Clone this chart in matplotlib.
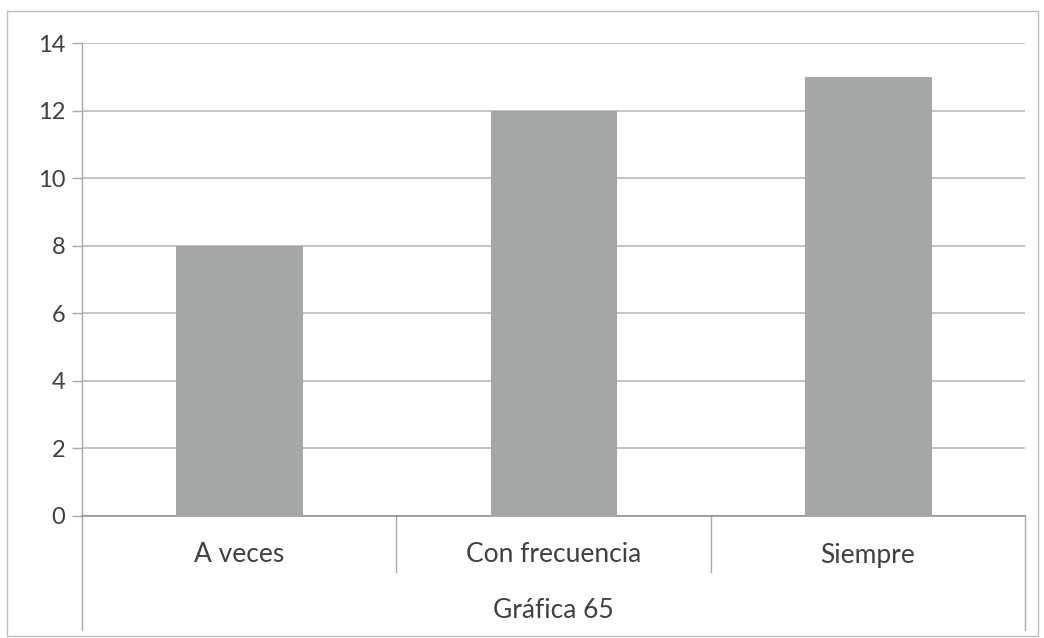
import matplotlib
matplotlib.use("Agg")
import matplotlib.pyplot as plt
from matplotlib.patches import Rectangle

categories = ["A veces", "Con frecuencia", "Siempre"]
values = [8, 12, 13]
yticks = [0, 2, 4, 6, 8, 10, 12, 14]
group_label = "Gráfica 65"

plt.rcParams['font.family'] = ['Lato', 'DejaVu Sans']

W, H = 1044, 638
fig = plt.figure(figsize=(W / 100, H / 100), dpi=100)
fig.patch.set_facecolor("white")

# outer chart border
fig.add_artist(Rectangle((7 / W, 1 - 636 / H), (1038 - 7) / W, (636 - 11) / H,
                         transform=fig.transFigure, fill=False,
                         edgecolor="#bdbdbd", linewidth=1.0))

ax = fig.add_axes([82 / W, 1 - 516 / H, (1025 - 82) / W, (516 - 43) / H])
x = list(range(len(categories)))
ax.bar(x, values, width=0.4, color="#a4a8a8", edgecolor="#9a9e9e", linewidth=0.6, zorder=3)
ax.set_xlim(-0.5, len(categories) - 0.5)
ax.set_ylim(0, 14)
ax.set_yticks(yticks)
ax.set_yticklabels([str(v) for v in yticks], fontsize=17, color="#404040")
ax.tick_params(axis="y", length=7, width=1, color="#a8a8a8", pad=5)
ax.set_xticks([])
ax.grid(axis="y", color="#b3b3b3", linewidth=1.1, zorder=0)
for s in ["top", "right"]:
    ax.spines[s].set_visible(False)
ax.spines["left"].set_color("#a8a8a8")
ax.spines["bottom"].set_color("#8c8c8c")
ax.spines["left"].set_linewidth(1)
ax.spines["bottom"].set_linewidth(1.1)

plot_h = 516 - 43
def ypx(py):
    return (516 - py) / plot_h

trans = ax.get_xaxis_transform()
ax.plot([-0.5, -0.5], [0, ypx(630)], transform=trans, color="#a8a8a8", lw=1, clip_on=False)
ax.plot([len(categories) - 0.5] * 2, [0, ypx(630)], transform=trans, color="#a8a8a8", lw=1, clip_on=False)
for i in range(1, len(categories)):
    ax.plot([i - 0.5, i - 0.5], [0, ypx(572)], transform=trans, color="#a8a8a8", lw=1, clip_on=False)

for i, c in enumerate(categories):
    ax.text(i, ypx(555), c, transform=trans, ha="center", va="center",
            fontsize=19, color="#404040")
ax.text((len(categories) - 1) / 2, ypx(610), group_label, transform=trans,
        ha="center", va="center", fontsize=19, color="#404040")

fig.savefig("out.png", dpi=100, facecolor="white")
